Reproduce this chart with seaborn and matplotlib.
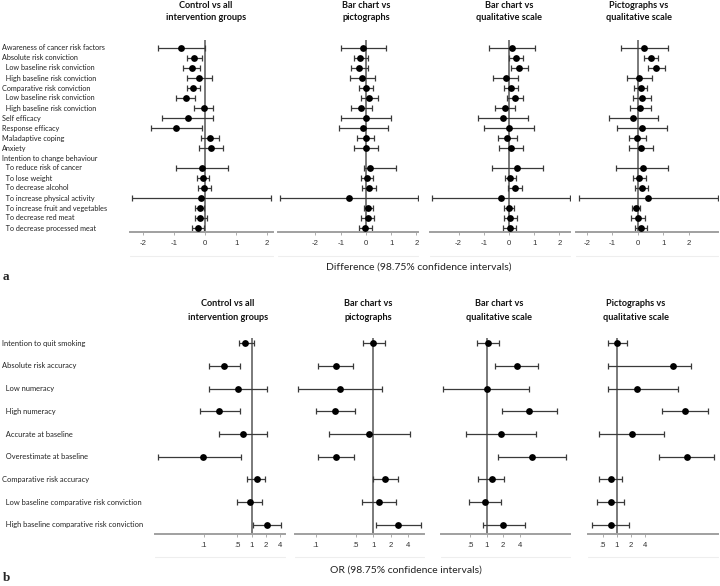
import numpy as np
import pandas as pd
import matplotlib
matplotlib.use("Agg")
import matplotlib.pyplot as plt
import matplotlib.transforms as mtrans
from matplotlib.lines import Line2D
from matplotlib.ticker import FixedLocator, FixedFormatter, NullLocator
import seaborn as sns

# ---------------- data: panel a (differences) ----------------
labels_a = [
    "Awareness of cancer risk factors", "Absolute risk conviction",
    "  Low baseline risk conviction", "  High baseline risk conviction",
    "Comparative risk conviction", "  Low baseline risk conviction",
    "  High baseline risk conviction", "Self efficacy", "Response efficacy",
    "Maladaptive coping", "Anxiety", "Intention to change behaviour",
    "  To reduce risk of cancer", "  To lose weight", "  To decrease alcohol",
    "  To increase physical activity", "  To increase fruit and vegetables",
    "  To decrease red meat", "  To decrease processed meat",
]
nan = np.nan
titles = ["Control vs all\nintervention groups", "Bar chart vs\npictographs",
          "Bar chart vs\nqualitative scale", "Pictographs vs\nqualitative scale"]

a1_est = [-0.76, -0.35, -0.41, -0.18, -0.38, -0.63, -0.04, -0.56, -0.94, 0.17, 0.19, nan, -0.09, -0.06, -0.02, -0.13, -0.15, -0.15, -0.23]
a1_lo = [-1.51, -0.57, -0.70, -0.57, -0.59, -0.94, -0.36, -1.38, -1.73, -0.13, -0.19, nan, -0.95, -0.25, -0.24, -2.35, -0.31, -0.32, -0.41]
a1_hi = [0.00, -0.11, -0.16, 0.22, -0.16, -0.32, 0.27, 0.25, -0.11, 0.45, 0.57, nan, 0.74, 0.12, 0.19, 2.14, -0.02, 0.05, -0.02]

a2_est = [-0.12, -0.22, -0.27, -0.14, 0.01, 0.13, -0.18, 0.00, -0.10, 0.00, 0.01, nan, 0.17, 0.04, 0.13, -0.68, 0.09, 0.08, -0.04]
a2_lo = [-1.00, -0.48, -0.61, -0.64, -0.26, -0.20, -0.59, -0.98, -1.07, -0.35, -0.46, nan, -0.09, -0.21, -0.14, -3.39, -0.09, -0.18, -0.29]
a2_hi = [0.80, 0.07, 0.07, 0.34, 0.26, 0.47, 0.25, 0.98, 0.88, 0.33, 0.47, nan, 1.18, 0.27, 0.39, 2.07, 0.27, 0.33, 0.22]

a3_est = [0.13, 0.27, 0.41, -0.13, 0.09, 0.24, -0.15, -0.24, 0.01, -0.07, 0.08, nan, 0.32, 0.05, 0.23, -0.32, 0.00, 0.05, 0.03]
a3_lo = [-0.80, 0.00, 0.08, -0.63, -0.19, -0.09, -0.56, -1.23, -0.99, -0.43, -0.39, nan, -0.69, -0.16, -0.03, -3.05, -0.19, -0.21, -0.23]
a3_hi = [1.04, 0.55, 0.77, 0.37, 0.37, 0.57, 0.25, 0.77, 1.01, 0.31, 0.57, nan, 1.33, 0.29, 0.51, 2.42, 0.19, 0.31, 0.29]

a4_est = [0.25, 0.52, 0.72, 0.05, 0.12, 0.14, 0.08, -0.18, 0.16, -0.04, 0.12, nan, 0.18, 0.05, 0.14, 0.39, -0.07, -0.01, 0.12]
a4_lo = [-0.66, 0.22, 0.39, -0.43, -0.14, -0.21, -0.33, -1.15, -0.84, -0.37, -0.37, nan, -0.85, -0.20, -0.13, -2.33, -0.24, -0.26, -0.13]
a4_hi = [1.18, 0.80, 1.07, 0.55, 0.37, 0.50, 0.50, 0.77, 1.14, 0.33, 0.60, nan, 1.19, 0.31, 0.39, 3.13, 0.10, 0.26, 0.35]

# ---------------- data: panel b (odds ratios) ----------------
labels_b = [
    "Intention to quit smoking", "Absolute risk accuracy", "  Low numeracy",
    "  High numeracy", "  Accurate at baseline", "  Overestimate at baseline",
    "Comparative risk accuracy", "  Low baseline comparative risk conviction",
    "  High baseline comparative risk conviction",
]
b1_est = [0.745, 0.27, 0.52, 0.21, 0.66, 0.093, 1.28, 0.92, 2.15]
b1_lo = [0.545, 0.126, 0.126, 0.083, 0.21, 0.0107, 0.805, 0.50, 1.05]
b1_hi = [1.12, 0.58, 2.15, 0.56, 2.15, 0.61, 1.92, 1.63, 4.2]

b2_est = [1.0, 0.224, 0.264, 0.213, 0.85, 0.224, 1.6, 1.26, 2.72]
b2_lo = [0.65, 0.11, 0.05, 0.10, 0.17, 0.11, 0.98, 0.64, 1.1]
b2_hi = [1.6, 0.45, 1.4, 0.48, 4.35, 0.47, 2.72, 2.45, 6.76]

b3_est = [1.07, 3.5, 1.0, 5.9, 1.82, 6.6, 1.23, 0.93, 2.0]
b3_lo = [0.66, 1.42, 0.163, 1.92, 0.43, 1.63, 0.70, 0.48, 0.85]
b3_hi = [1.69, 8.7, 5.9, 18.7, 7.8, 27.3, 2.07, 1.8, 5.0]

b4_est = [1.03, 16.5, 2.7, 29.4, 2.1, 32.0, 0.74, 0.74, 0.74]
b4_lo = [0.64, 0.64, 0.66, 9.6, 0.42, 8.2, 0.42, 0.37, 0.30]
b4_hi = [1.64, 39.5, 20.4, 90.0, 10.6, 126.0, 1.28, 1.44, 1.87]

ticks_a = [-2, -1, 0, 1, 2]
ticks_b = [0.1, 0.5, 1, 2, 4]
ticklabels_b = [".1", ".5", "1", "2", "4"]

# ---------------- styling ----------------
sns.set_theme(style="white")
plt.rcParams["font.family"] = ["Lato", "DejaVu Sans"]

W, H = 720, 586
fig = plt.figure(figsize=(W / 100, H / 100), dpi=100)


def add_ax(x0, x1, ytop, ybot):
    return fig.add_axes([x0 / W, 1 - ybot / H, (x1 - x0) / W, (ybot - ytop) / H])


ERR_COL = "#3a3a3a"
REF_COL = "#707070"
AX_COL = "#a0a0a0"
TICK_FONT = ["Liberation Sans", "DejaVu Sans"]


def draw_panel(ax, est, lo, hi, ylim, xlim, ref, log=False):
    n = len(est)
    df = pd.DataFrame({"row": np.arange(n), "est": est, "lo": lo, "hi": hi}).dropna()
    if log:
        ax.set_xscale("log")
    ax.axvline(ref, color=REF_COL, lw=1.3, zorder=1)
    ax.errorbar(df["est"], df["row"], xerr=[df["est"] - df["lo"], df["hi"] - df["est"]],
                fmt="none", ecolor=ERR_COL, elinewidth=0.9, capsize=2.4, capthick=0.9, zorder=2)
    sns.scatterplot(data=df, x="est", y="row", ax=ax, color="black", s=24,
                    edgecolor="black", linewidth=0, zorder=3, legend=False)
    ax.set_xlim(*xlim)
    ax.set_ylim(*ylim)
    ax.set_xlabel("")
    ax.set_ylabel("")
    ax.set_yticks([])
    for s in ["top", "right", "left"]:
        ax.spines[s].set_visible(False)
    ax.spines["bottom"].set_color(AX_COL)
    ax.spines["bottom"].set_linewidth(1.4)
    ax.tick_params(axis="x", which="both", length=2, width=0.6, color=AX_COL,
                   labelsize=5.6, labelcolor="#333333", pad=3.5, bottom=True)
    ax.patch.set_alpha(0)


def draw_title(xc, y1, y2, text):
    l1, l2 = text.split("\n")
    fig.text(xc / W, 1 - y1 / H, l1, ha="center", va="center",
             fontsize=6.6, fontweight="bold", color="#111111")
    fig.text(xc / W, 1 - y2 / H, l2, ha="center", va="center",
             fontsize=6.6, fontweight="bold", color="#111111")


def finish_ticks(ax, locs, labs):
    ax.xaxis.set_major_locator(FixedLocator(locs))
    ax.xaxis.set_major_formatter(FixedFormatter(labs))
    ax.xaxis.set_minor_locator(NullLocator())
    ax.tick_params(axis="x", labelfontfamily=TICK_FONT)


# ---- panel a ----
a_est = [a1_est, a2_est, a3_est, a4_est]
a_lo = [a1_lo, a2_lo, a3_lo, a4_lo]
a_hi = [a1_hi, a2_hi, a3_hi, a4_hi]
a_geom = [(130, 273, (-2.42, 2.19)), (278, 418, (-3.48, 2.06)),
          (430, 570, (-3.13, 2.42)), (576, 718, (-2.43, 3.14))]
a_title_x = [206, 366, 509, 639]
axes_a = []
for i, (x0, x1, xl) in enumerate(a_geom):
    ax = add_ax(x0, x1, 40, 232)
    draw_panel(ax, a_est[i], a_lo[i], a_hi[i], (18.4, -0.8), xl, 0)
    finish_ticks(ax, ticks_a, [str(t) for t in ticks_a])
    axes_a.append(ax)
    draw_title(a_title_x[i], 6, 18, titles[i])
    fig.add_artist(Line2D([x0 / W, x1 / W], [1 - 256 / H] * 2, color="#eeeeee", lw=0.8))

trans_a = mtrans.blended_transform_factory(fig.transFigure, axes_a[0].transData)
for r, lab in enumerate(labels_a):
    axes_a[0].text(2 / W, r, lab, transform=trans_a, ha="left", va="center",
                   fontsize=5.2, color="#222222", clip_on=False)

fig.text(419 / W, 1 - 267 / H, "Difference (98.75% confidence intervals)", ha="center",
         va="center", fontsize=7.5, color="#222222")
fig.text(3 / W, 1 - 277 / H, "a", ha="left", va="center", fontsize=9.5,
         fontweight="bold", family=["Liberation Serif", "DejaVu Serif"])

# ---- panel b ----
b_est = [b1_est, b2_est, b3_est, b4_est]
b_lo = [b1_lo, b2_lo, b3_lo, b4_lo]
b_hi = [b1_hi, b2_hi, b3_hi, b4_hi]
b_geom = [(155, 285, (0.0093, 5.07)), (295, 424, (0.0435, 7.62)),
          (441, 570, (0.148, 32.7)), (588, 718, (0.241, 150.7))]
b_title_x = [228, 368, 499, 636]
axes_b = []
for i, (x0, x1, xl) in enumerate(b_geom):
    ax = add_ax(x0, x1, 338, 534)
    draw_panel(ax, b_est[i], b_lo[i], b_hi[i], (8.4, -0.23), xl, 1, log=True)
    vis = [(t, l) for t, l in zip(ticks_b, ticklabels_b) if xl[0] <= t <= xl[1]]
    finish_ticks(ax, [t for t, _ in vis], [l for _, l in vis])
    axes_b.append(ax)
    draw_title(b_title_x[i], 303.5, 317, titles[i])
    fig.add_artist(Line2D([x0 / W, x1 / W], [1 - 557 / H] * 2, color="#eeeeee", lw=0.8))

trans_b = mtrans.blended_transform_factory(fig.transFigure, axes_b[0].transData)
for r, lab in enumerate(labels_b):
    axes_b[0].text(2 / W, r, lab, transform=trans_b, ha="left", va="center",
                   fontsize=5.45, color="#222222", clip_on=False)

fig.text(406 / W, 1 - 570 / H, "OR (98.75% confidence intervals)", ha="center",
         va="center", fontsize=7.5, color="#222222")
fig.text(3 / W, 1 - 578 / H, "b", ha="left", va="center", fontsize=9.5,
         fontweight="bold", family=["Liberation Serif", "DejaVu Serif"])

fig.savefig("out.png", dpi=100, facecolor="white")
